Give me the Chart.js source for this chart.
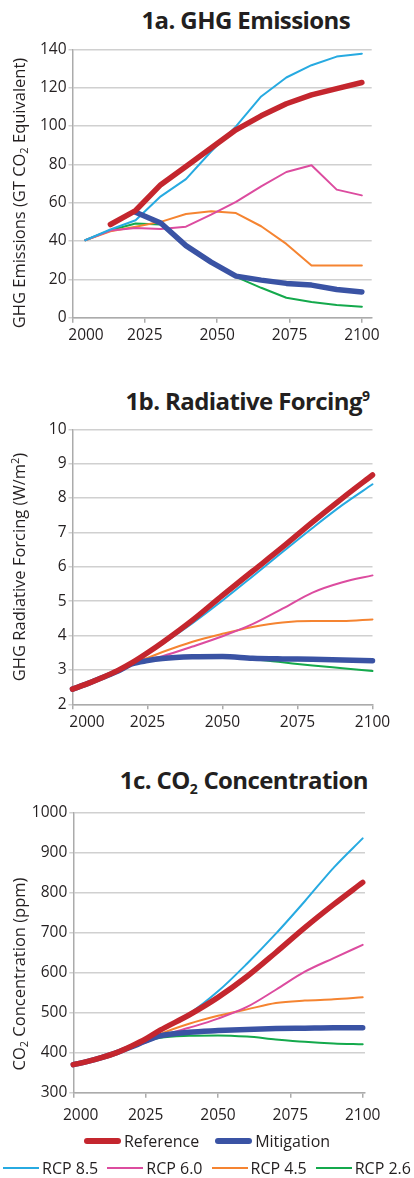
<!DOCTYPE html>
<html><head><meta charset="utf-8">
<script src="https://cdn.jsdelivr.net/npm/chart.js@4"></script>
<style>
body{margin:0;width:414px;height:1178px;background:#fff;position:relative;overflow:hidden;font-family:'Open Sans',sans-serif;color:#231f20}
.t{position:absolute;font-weight:700;font-size:24px;line-height:24px;letter-spacing:-0.6px;white-space:nowrap}
.t sup,.t sub{font-size:14px;line-height:0;letter-spacing:0}
.t sup{vertical-align:9px}
.t sub{vertical-align:-5px}
.yt{position:absolute;width:400px;height:20px;line-height:20px;font-size:16.5px;text-align:center;white-space:nowrap;transform:rotate(-90deg);transform-origin:50% 50%}
.yt sub,.yt sup{font-size:11px;line-height:0}
.yt sub{vertical-align:-3px}
.yt sup{vertical-align:6px}
canvas{position:absolute;left:0}
.lr{position:absolute;left:0;width:414px;height:20px;display:flex;justify-content:center;align-items:center;font-size:16px;line-height:20px;white-space:nowrap}
.li{display:flex;align-items:center}
.ln{display:inline-block;margin-right:3px}
</style></head>
<body>
<div class="t" style="top:8px;right:64px">1a. GHG Emissions</div>
<div class="t" style="top:389px;right:44px">1b. Radiative Forcing<sup>9</sup></div>
<div class="t" style="top:768px;right:46px">1c. CO<sub>2</sub> Concentration</div>
<canvas id="c1" width="414" height="311" style="top:34px"></canvas>
<canvas id="c2" width="414" height="320" style="top:415px"></canvas>
<canvas id="c3" width="414" height="330" style="top:797px"></canvas>
<div class="yt" style="left:-181.5px;top:182.5px">GHG Emissions (GT CO<sub>2</sub> Equivalent)</div>
<div class="yt" style="left:-181.5px;top:556.5px">GHG Radiative Forcing (W/m<sup>2</sup>)</div>
<div class="yt" style="left:-181.5px;top:964px">CO<sub>2</sub> Concentration (ppm)</div>
<div class="lr" id="leg1" style="top:1131px;gap:16px"></div>
<div class="lr" id="leg2" style="top:1158px;gap:9px"></div>
<script>
// ---- Series names & colours ----
const seriesNames = ['Reference','Mitigation','RCP 8.5','RCP 6.0','RCP 4.5','RCP 2.6'];
const seriesColors = ['#c4262e','#3a53a4','#27aae1','#dc4c9f','#f58431','#14a94c'];

// ---- 1a. GHG Emissions (GT CO2 equivalent) ----
const years1a = [2004.4, 2013.1, 2021.8, 2030.5, 2039.2, 2047.9, 2056.5, 2065.2, 2073.9, 2082.6, 2091.3, 2100];
const ref1a   = [null, 48.6, 55.9, 69.4, 78.9, 88.5, 98.0, 105.3, 111.6, 116.2, 119.5, 122.7];
const mit1a   = [null, null, 55.0, 49.4, 37.6, 29.0, 21.7, 19.6, 17.9, 17.0, 14.7, 13.4];
const rcp85_1a = [40.4, 46.0, 50.8, 63.3, 72.3, 86.7, 99.8, 115.4, 125.3, 131.7, 136.2, 137.7];
const rcp60_1a = [40.4, 45.5, 46.8, 46.3, 47.5, 53.8, 60.4, 68.5, 76.0, 79.5, 66.8, 63.8];
const rcp45_1a = [40.4, 45.1, 47.4, 50.0, 54.1, 55.5, 54.6, 47.7, 38.5, 27.2, 27.2, 27.2];
const rcp26_1a = [40.4, 45.6, 49.1, 48.6, 38.2, 28.6, 21.3, 15.6, 10.4, 8.2, 6.6, 5.7];

// ---- 1b. Radiative Forcing (W/m2) ----
const years1b = [2000, 2005, 2010, 2015, 2020, 2025, 2030, 2040, 2050, 2060, 2070, 2080, 2090, 2100];
const ref1b   = [2.44, 2.60, 2.78, 2.98, 3.22, 3.50, 3.80, 4.45, 5.17, 5.87, 6.57, 7.30, 8.00, 8.67];
const mit1b   = [2.44, 2.60, 2.78, 2.96, 3.18, 3.27, 3.33, 3.38, 3.39, 3.34, 3.32, 3.31, 3.29, 3.27];
const rcp85_1b = [2.44, 2.60, 2.78, 2.98, 3.22, 3.48, 3.76, 4.36, 5.02, 5.72, 6.43, 7.13, 7.80, 8.40];
const rcp60_1b = [2.44, 2.60, 2.78, 2.98, 3.20, 3.30, 3.40, 3.68, 3.98, 4.33, 4.78, 5.25, 5.55, 5.75];
const rcp45_1b = [2.44, 2.60, 2.78, 2.98, 3.20, 3.35, 3.52, 3.82, 4.05, 4.25, 4.38, 4.42, 4.42, 4.47];
const rcp26_1b = [2.44, 2.60, 2.78, 2.98, 3.18, 3.28, 3.33, 3.38, 3.38, 3.31, 3.22, 3.13, 3.05, 2.97];

// ---- 1c. CO2 Concentration (ppm) ----
const years1c = [2000, 2005, 2010, 2015, 2020, 2025, 2030, 2040, 2050, 2060, 2070, 2080, 2090, 2100];
const ref1c   = [370, 378, 388, 400, 416, 434, 456, 494, 538, 590, 650, 712, 770, 825];
const mit1c   = [370, 378, 388, 400, 414, 429, 442, 451, 455, 458, 460, 461, 462, 462];
const rcp85_1c = [370, 378, 388, 400, 416, 434, 456, 497, 553, 622, 697, 778, 862, 935];
const rcp60_1c = [370, 378, 388, 399, 412, 425, 441, 462, 485, 514, 557, 602, 636, 669];
const rcp45_1c = [370, 378, 388, 400, 414, 428, 446, 472, 492, 508, 524, 530, 533, 538];
const rcp26_1c = [370, 378, 388, 400, 414, 428, 437, 442, 443, 440, 433, 427, 423, 421];

// ---- Axis tick settings ----
const xTickStep = 25;
const yTicks1a = {min: 0, max: 140, step: 20};
const yTicks1b = {min: 2, max: 10, step: 1};
const yTicks1c = {min: 300, max: 1000, step: 100};

const TXT = '#231f20', GRID = '#d0d0d0', AXC = '#ababab';
Chart.defaults.font.family = "'Open Sans', sans-serif";

function pts(xs, ys){ const out=[]; xs.forEach((x,i)=>{ if(ys[i]!==null) out.push({x:x,y:ys[i]}); }); return out; }

function datasets(xs, series, smooth){
  return series.map((ys,i)=>({
    label: seriesNames[i],
    data: pts(xs, ys),
    borderColor: seriesColors[i],
    backgroundColor: seriesColors[i],
    borderWidth: i<2 ? 5.5 : 2,
    borderCapStyle: 'round',
    borderJoinStyle: 'round',
    pointRadius: 0,
    fill: false,
    tension: 0,
    cubicInterpolationMode: smooth ? 'monotone' : 'default',
    clip: 6
  }));
}

// shift the first x-axis label to the right, like the original
const firstLabelShift = {
  id:'firstLabelShift',
  beforeDraw(chart, args, o){
    const items = chart.scales.x.getLabelItems();
    if(items.length && !items._shifted){ items[0].options.translation[0] += (o.shift||0); items._shifted = true; }
  }
};

function options(p){
  return {
    responsive:false, animation:false,
    layout:{padding:{top:p.padTop,right:p.padRight,bottom:0,left:0}},
    plugins:{legend:{display:false},tooltip:{enabled:false},firstLabelShift:{shift:p.shift}},
    scales:{
      x:{type:'linear',min:2000,max:p.xMax,
        ticks:{stepSize:xTickStep,includeBounds:false,padding:p.xPad,color:TXT,font:{size:15.5},maxRotation:0,autoSkip:false,callback:v=>String(v)},
        grid:{drawOnChartArea:false,drawTicks:true,tickLength:5,color:AXC,lineWidth:1.5},
        border:{color:AXC,width:1.5},
        afterFit:s=>{s.height=p.xH;}},
      y:{type:'linear',min:p.y.min,max:p.y.max,
        ticks:{stepSize:p.y.step,padding:2,color:TXT,font:{size:15.5},callback:v=>String(v)},
        grid:{color:GRID,lineWidth:1.5,tickLength:4},
        border:{color:AXC,width:1.5},
        afterFit:s=>{s.width=p.yW;}}
    }
  };
}

new Chart(document.getElementById('c1'),{type:'line',
  data:{datasets:datasets(years1a,[ref1a,mit1a,rcp85_1a,rcp60_1a,rcp45_1a,rcp26_1a],false)},
  options:options({padTop:15.3,padRight:42.3,xMax:2103.4,xH:27.3,xPad:4,shift:13.5,yW:72.5,y:yTicks1a}),
  plugins:[firstLabelShift]});

new Chart(document.getElementById('c2'),{type:'line',
  data:{datasets:datasets(years1b,[ref1b,mit1b,rcp85_1b,rcp60_1b,rcp45_1b,rcp26_1b],true)},
  options:options({padTop:14.3,padRight:41.5,xMax:2100,xH:30.7,xPad:3.5,shift:14.5,yW:72.5,y:yTicks1b}),
  plugins:[firstLabelShift]});

new Chart(document.getElementById('c3'),{type:'line',
  data:{datasets:datasets(years1c,[ref1c,mit1c,rcp85_1c,rcp60_1c,rcp45_1c,rcp26_1c],true)},
  options:options({padTop:15.3,padRight:49,xMax:2100.8,xH:34.3,xPad:9,shift:7.4,yW:73.3,y:yTicks1c}),
  plugins:[firstLabelShift]});

// ---- HTML legend ----
function legendItem(i){
  const d=document.createElement('span'); d.className='li';
  const l=document.createElement('span'); l.className='ln';
  const thick=i<2;
  l.style.width=(thick?37:36)+'px'; l.style.height=(thick?6:2)+'px';
  l.style.borderRadius=thick?'3px':'0'; l.style.background=seriesColors[i];
  const t=document.createElement('span'); t.textContent=seriesNames[i];
  d.appendChild(l); d.appendChild(t); return d;
}
[0,1].forEach(i=>document.getElementById('leg1').appendChild(legendItem(i)));
[2,3,4,5].forEach(i=>document.getElementById('leg2').appendChild(legendItem(i)));
</script>
</body></html>
